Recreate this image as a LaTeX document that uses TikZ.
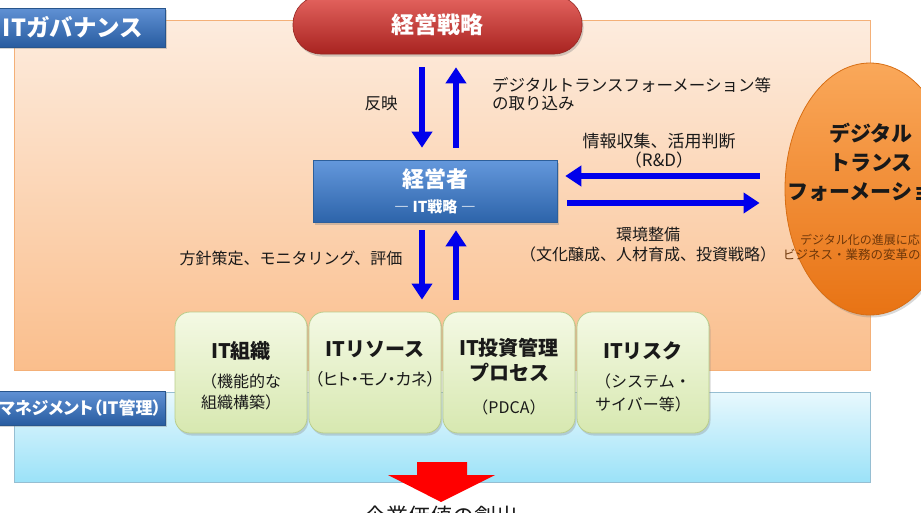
\documentclass[tikz,border=0pt]{standalone}
\usepackage{fontspec}
\setmainfont{Noto Sans CJK JP}
\newfontfamily\jpp[RawFeature={+palt}]{Noto Sans CJK JP}
\usetikzlibrary{arrows.meta,shapes.geometric,shadows}
\definecolor{arrowblue}{RGB}{0,0,235}
\definecolor{txt}{RGB}{25,25,25}
\begin{document}
\begin{tikzpicture}[x=1pt,y=-1pt,
  panelO/.style={draw={rgb,255:red,244;green,176;blue,120}, line width=0.8pt, top color={rgb,255:red,253;green,236;blue,222}, bottom color={rgb,255:red,250;green,190;blue,140}},
  panelB/.style={draw={rgb,255:red,150;green,190;blue,210}, line width=0.8pt, top color={rgb,255:red,232;green,248;blue,253}, bottom color={rgb,255:red,155;green,226;blue,248}},
  tabbox/.style={draw={rgb,255:red,40;green,85;blue,140}, line width=0.6pt, top color={rgb,255:red,96;green,145;blue,212}, bottom color={rgb,255:red,40;green,92;blue,160}, drop shadow={opacity=0.35,shadow xshift=1.5pt,shadow yshift=-2pt}},
  tabtext/.style={text=white, inner sep=0pt, anchor=east},
  ceobox/.style={draw={rgb,255:red,45;green,95;blue,155}, line width=0.6pt, top color={rgb,255:red,100;green,152;blue,220}, bottom color={rgb,255:red,45;green,100;blue,170}, text=white, align=center, drop shadow={opacity=0.35,shadow xshift=1.5pt,shadow yshift=-2.5pt}},
  stratbox/.style={draw={rgb,255:red,150;green,40;blue,35}, line width=0.6pt, rounded corners=28pt, top color={rgb,255:red,228;green,100;blue,95}, bottom color={rgb,255:red,168;green,35;blue,32}, text=white, drop shadow={opacity=0.35,shadow xshift=1.5pt,shadow yshift=-2.5pt}},
  greenbox/.style={draw={rgb,255:red,185;green,205;blue,140}, line width=0.8pt, rounded corners=15pt, top color={rgb,255:red,244;green,249;blue,228}, bottom color={rgb,255:red,215;green,232;blue,176}, minimum width=132, minimum height=121, drop shadow={opacity=0.3,shadow xshift=1.5pt,shadow yshift=-2.5pt}},
  gtext/.style={anchor=north, inner sep=0pt, align=center, text=txt, font=\fontsize{16}{21}\selectfont},
  dxell/.style={ellipse, draw={rgb,255:red,215;green,110;blue,20}, line width=0.8pt, top color={rgb,255:red,250;green,168;blue,90}, bottom color={rgb,255:red,232;green,115;blue,20}, drop shadow={opacity=0.3,shadow xshift=1.5pt,shadow yshift=-2.5pt}},
  lbl/.style={text=txt, inner sep=0pt, align=center},
  barrow/.style={draw=arrowblue, line width=6pt, -{Triangle[width=20pt,length=16pt]}}
]
\useasboundingbox (0,0) rectangle (921,512);
\clip (0,0) rectangle (921,512);

% panels
\node[panelO, minimum width=856, minimum height=350] (gov) at (442,195) {};
\node[panelB, minimum width=856, minimum height=90] (mgmt) at (442,437) {};

% DX ellipse
\node[dxell, minimum width=170, minimum height=252] (dx) at (870,189) {};
\node[lbl, font=\bfseries\fontsize{21}{29}\selectfont] (dxt) at (871,162) {デジタル\\トランス\\フォーメーション};
\node[lbl, anchor=west, text={rgb,255:red,110;green,55;blue,10}, font=\fontsize{12}{14}\selectfont] (dxs1) at (800,240) {デジタル化の進展に応じた};
\node[lbl, anchor=west, text={rgb,255:red,110;green,55;blue,10}, font=\fontsize{12.5}{14}\selectfont] (dxs2) at (783,255) {ビジネス・業務の変革の推進};

% tabs
\node[tabbox, minimum width=195, minimum height=39] (tabgov) at (67.5,27.5) {};
\node[tabtext, font=\bfseries\fontsize{23.5}{26}\selectfont] (tabgovt) at ([xshift=-22pt]tabgov.east) {ITガバナンス};
\node[tabbox, minimum width=195, minimum height=34] (tabmgmt) at (67.5,408) {};
\node[tabtext, font=\jpp\bfseries\fontsize{17}{20}\selectfont] (tabmgmtt) at ([xshift=-4pt]tabmgmt.east) {ITマネジメント（IT管理）};

% strategy and CEO
\node[stratbox, minimum width=289, minimum height=58, font=\bfseries\fontsize{23}{26}\selectfont] (sm) at (437.5,25) {経営戦略};
\node[ceobox, minimum width=244, minimum height=62, font=\bfseries\fontsize{15}{18}\selectfont] (ceo) at (435,191) {{\fontsize{22}{26}\selectfont 経営者}\\[7pt]― IT戦略 ―};

% green boxes
\node[greenbox] (b1) at (241,372.5) {};
\node[greenbox] (b2) at (375,372.5) {};
\node[greenbox] (b3) at (509,372.5) {};
\node[greenbox] (b4) at (643,372.5) {};
\node[gtext] (t1) at ([yshift=-30pt]b1.north) {{\bfseries\fontsize{20}{24}\selectfont IT組織}\\[8pt]（機能的な\\組織構築）};
\node[gtext] (t2) at ([yshift=-29pt]b2.north) {{\bfseries\fontsize{20}{24}\selectfont ITリソース}\\[8pt]{\jpp\fontsize{16.5}{21}\selectfont （ヒト・モノ・カネ）}};
\node[gtext] (t3) at ([yshift=-26pt]b3.north) {{\bfseries\fontsize{20}{24}\selectfont IT投資管理}\\[4pt]{\bfseries\fontsize{20}{24}\selectfont プロセス}\\[12pt]（PDCA）};
\node[gtext] (t4) at ([yshift=-30pt]b4.north) {{\bfseries\fontsize{20}{24}\selectfont ITリスク}\\[8pt]（システム・\\[2pt]サイバー等）};

% arrows strategy <-> CEO
\draw[barrow, shorten <=13pt, shorten >=12pt] ([xshift=-13pt]ceo.north |- sm.south) -- ([xshift=-13pt]ceo.north);
\draw[barrow, shorten <=12pt, shorten >=13pt] ([xshift=21pt]ceo.north) -- ([xshift=21pt]ceo.north |- sm.south);
% arrows CEO <-> boxes
\draw[barrow, shorten <=8pt, shorten >=12pt] ([xshift=-13pt]ceo.south) -- ([xshift=-13pt]ceo.south |- b2.north);
\draw[barrow, shorten <=12pt, shorten >=8pt] ([xshift=21pt]ceo.south |- b3.north) -- ([xshift=21pt]ceo.south);
% arrows DX <-> CEO
\draw[barrow, shorten <=25pt, shorten >=8pt] ([yshift=15pt]ceo.east -| dx.west) -- ([yshift=15pt]ceo.east);
\draw[barrow, shorten <=10pt, shorten >=25pt] ([yshift=-12pt]ceo.east) -- ([yshift=-12pt]ceo.east -| dx.west);

% labels
\node[lbl, font=\fontsize{16.5}{19}\selectfont] (l1) at (381,103) {反映};
\node[lbl, anchor=west, align=left, font=\fontsize{16.5}{18.5}\selectfont] (l2) at (492,94) {デジタルトランスフォーメーション等\\の取り込み};
\node[lbl, font=\fontsize{17}{19}\selectfont] (l3) at (659,150.5) {情報収集、活用判断\\（R\&D）};
\node[lbl, font=\fontsize{16}{20}\selectfont] (l4) at (648,245) {環境整備\\（文化醸成、人材育成、投資戦略）};
\node[lbl, font=\fontsize{16}{19}\selectfont] (l5) at (291,258) {方針策定、モニタリング、評価};

% red block arrow and result
\fill[red] (417,462) -- (467,462) -- (467,475) -- (495,475) -- (441,502) -- (388,475) -- (417,475) -- cycle;
\node[lbl, font=\fontsize{22}{24}\selectfont] (val) at (441,516) {企業価値の創出};
\end{tikzpicture}
\end{document}
